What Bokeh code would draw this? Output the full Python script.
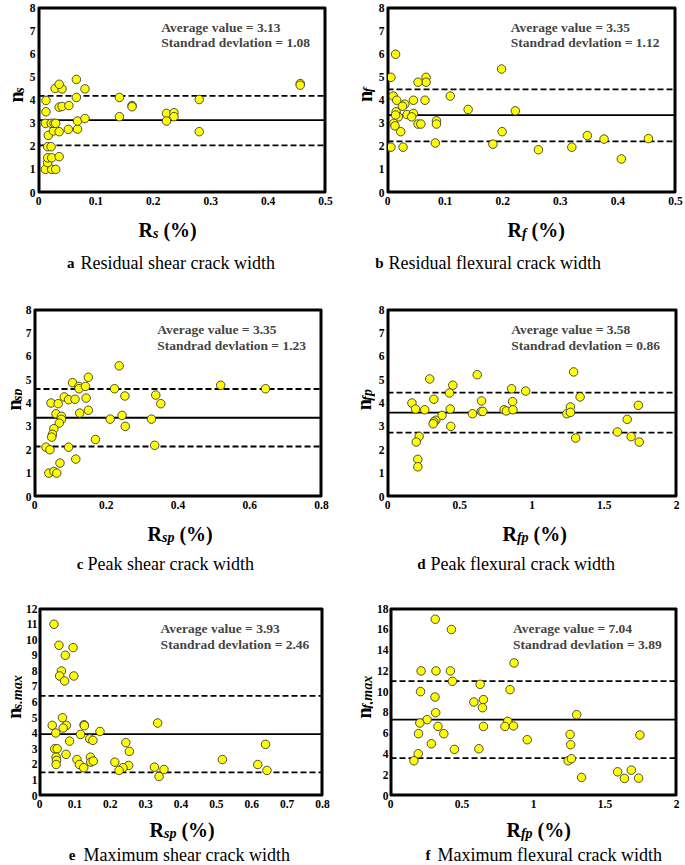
import math
from bokeh.plotting import figure
from bokeh.models import Range1d, FixedTicker, Label, Span
from bokeh.layouts import column, row
from bokeh.core.properties import value
from bokeh.embed import file_html
from bokeh.resources import INLINE

FONT = "Liberation Serif"

# ---------------- data ----------------
a_x = [0.012, 0.023, 0.030, 0.016, 0.016, 0.023, 0.036, 0.016, 0.022, 0.017, 0.026, 0.036, 0.052, 0.068,
       0.012, 0.022, 0.027, 0.030, 0.068, 0.081, 0.141, 0.013, 0.036, 0.041, 0.053, 0.013, 0.066, 0.141,
       0.029, 0.041, 0.036, 0.081, 0.066, 0.163, 0.163, 0.223, 0.223, 0.236, 0.236, 0.280, 0.280, 0.456, 0.456]
a_y = [1.0, 1.0, 1.0, 1.29, 1.5, 1.5, 1.55, 1.98, 1.98, 2.47, 2.66, 2.63, 2.73, 2.74,
       2.99, 2.99, 2.99, 2.99, 3.09, 3.2, 3.28, 3.49, 3.69, 3.72, 3.76, 3.98, 4.11, 4.11,
       4.50, 4.48, 4.68, 4.48, 4.89, 3.76, 3.71, 3.42, 3.09, 3.45, 3.28, 4.02, 2.63, 4.71, 4.64]

b_x = [0.014, 0.006, 0.067, 0.067, 0.053, 0.198, 0.010, 0.016, 0.045, 0.065, 0.109, 0.030, 0.026, 0.140,
       0.222, 0.015, 0.034, 0.045, 0.042, 0.019, 0.014, 0.011, 0.013, 0.053, 0.058, 0.085, 0.085, 0.023,
       0.199, 0.083, 0.183, 0.001, 0.006, 0.027, 0.262, 0.320, 0.347, 0.376, 0.453, 0.406]
b_y = [5.98, 4.98, 4.98, 4.77, 4.77, 5.34, 4.17, 3.99, 3.99, 3.99, 4.17, 3.82, 3.73, 3.59,
       3.53, 3.49, 3.37, 3.42, 3.27, 3.27, 3.35, 2.99, 2.88, 2.96, 2.96, 3.10, 2.96, 2.63,
       2.63, 2.14, 2.09, 1.96, 1.96, 1.96, 1.85, 1.96, 2.46, 2.31, 2.33, 1.45]

c_x = [0.236, 0.150, 0.106, 0.124, 0.124, 0.142, 0.223, 0.519, 0.644, 0.338, 0.252, 0.083, 0.095, 0.113,
       0.144, 0.046, 0.066, 0.352, 0.150, 0.126, 0.060, 0.075, 0.075, 0.244, 0.211, 0.326, 0.069, 0.253,
       0.054, 0.050, 0.048, 0.170, 0.032, 0.043, 0.095, 0.335, 0.115, 0.071, 0.040, 0.054, 0.062]
c_y = [5.59, 5.10, 4.87, 4.71, 4.61, 4.71, 4.61, 4.76, 4.61, 4.34, 4.30, 4.26, 4.14, 4.16,
       4.21, 4.0, 3.97, 3.97, 3.69, 3.57, 3.54, 3.43, 3.30, 3.47, 3.31, 3.31, 3.14, 3.0,
       2.9, 2.66, 2.54, 2.44, 2.11, 2.0, 2.11, 2.19, 1.6, 1.43, 1.0, 1.07, 1.0]

d_x = [1.288, 0.621, 0.292, 0.452, 0.859, 0.956, 0.429, 1.333, 0.321, 0.651, 0.866, 0.169, 1.736, 1.266,
       0.194, 0.258, 0.434, 0.807, 0.823, 0.868, 0.649, 0.660, 0.588, 1.241, 1.266, 0.377, 0.334, 0.321,
       0.316, 0.438, 1.659, 1.591, 1.686, 1.742, 1.302, 0.219, 0.199, 0.210, 0.210]
d_y = [5.33, 5.21, 5.03, 4.76, 4.61, 4.51, 4.43, 4.26, 4.16, 4.09, 4.06, 4.0, 3.9, 3.83,
       3.74, 3.71, 3.74, 3.71, 3.66, 3.71, 3.64, 3.64, 3.54, 3.54, 3.6, 3.47, 3.26, 3.19,
       3.11, 3.0, 3.3, 2.76, 2.56, 2.33, 2.5, 2.57, 2.33, 1.59, 1.27]

e_x = [0.041, 0.055, 0.095, 0.073, 0.062, 0.057, 0.097, 0.071, 0.065, 0.036, 0.076, 0.126, 0.127, 0.067,
       0.334, 0.046, 0.116, 0.171, 0.142, 0.151, 0.085, 0.244, 0.639, 0.043, 0.050, 0.254, 0.075, 0.047,
       0.144, 0.106, 0.048, 0.517, 0.213, 0.145, 0.152, 0.047, 0.113, 0.125, 0.252, 0.236, 0.225, 0.325,
       0.352, 0.617, 0.643, 0.338]
e_y = [10.99, 9.64, 9.49, 9.0, 7.99, 7.67, 7.67, 7.35, 4.99, 4.5, 4.5, 4.54, 4.48, 4.33,
       4.65, 4.01, 3.92, 4.11, 3.64, 3.54, 3.49, 3.39, 3.28, 3.0, 3.0, 2.83, 2.64, 2.46,
       2.46, 2.31, 2.25, 2.31, 2.14, 2.14, 2.21, 1.99, 1.99, 1.78, 1.93, 1.78, 1.61, 1.82,
       1.67, 1.99, 1.61, 1.22]

f_x = [0.313, 0.426, 0.864, 0.214, 0.318, 0.419, 0.433, 0.627, 0.836, 0.210, 0.311, 0.650, 0.583, 0.643,
       0.316, 1.302, 0.256, 0.205, 0.820, 0.332, 0.650, 0.800, 0.860, 0.196, 0.373, 1.256, 1.744, 0.956,
       0.286, 1.260, 0.447, 0.618, 0.194, 0.164, 1.242, 1.265, 1.588, 1.684, 1.336, 1.636, 1.735]
f_y = [16.97, 15.98, 12.76, 11.99, 11.99, 11.99, 10.99, 10.70, 10.19, 10.0, 9.48, 9.23, 9.0, 8.45,
       7.97, 7.78, 7.30, 6.98, 7.14, 6.65, 6.65, 6.65, 6.69, 5.95, 5.95, 5.88, 5.82, 5.37,
       4.98, 4.89, 4.44, 4.5, 4.02, 3.34, 3.34, 3.54, 2.28, 2.44, 1.74, 1.64, 1.67]

# reference lines (mean, lower, upper) as drawn
a_lines = [3.13, 2.04, 4.18]
b_lines = [3.35, 2.21, 4.46]
c_lines = [3.37, 2.14, 4.60]
d_lines = [3.59, 2.73, 4.44]
e_lines = [3.94, 1.48, 6.39]
f_lines = [7.30, 3.60, 11.00]

# statistics text
a_stats = ["3.13", "1.08"]
b_stats = ["3.35", "1.12"]
c_stats = ["3.35", "1.23"]
d_stats = ["3.58", "0.86"]
e_stats = ["3.93", "2.46"]
f_stats = ["7.04", "3.89"]

# ticks
x_ticks_05 = [0, 0.1, 0.2, 0.3, 0.4, 0.5]
x_labels_05 = ["0", "0.1", "0.2", "0.3", "0.4", "0.5"]
x_ticks_08 = [0, 0.2, 0.4, 0.6, 0.8]
x_labels_08 = ["0", "0.2", "0.4", "0.6", "0.8"]
x_ticks_08f = [0, 0.1, 0.2, 0.3, 0.4, 0.5, 0.6, 0.7, 0.8]
x_labels_08f = ["0", "0.1", "0.2", "0.3", "0.4", "0.5", "0.6", "0.7", "0.8"]
x_ticks_2 = [0, 0.5, 1, 1.5, 2]
x_labels_2 = ["0", "0.5", "1", "1.5", "2"]
y_ticks_8 = [0, 1, 2, 3, 4, 5, 6, 7, 8]
y_labels_8 = [str(v) for v in y_ticks_8]
y_ticks_12 = [0, 1, 2, 3, 4, 5, 6, 7, 8, 9, 10, 11, 12]
y_labels_12 = [str(v) for v in y_ticks_12]
y_ticks_18 = [0, 2, 4, 6, 8, 10, 12, 14, 16, 18]
y_labels_18 = [str(v) for v in y_ticks_18]

# titles
letters = ["a", "b", "c", "d", "e", "f"]
captions = ["Residual shear crack width", "Residual flexural crack width",
            "Peak shear crack width", "Peak flexural crack width",
            "Maximum shear crack width", "Maximum flexural crack width"]
x_subs = ["s", "f", "sp", "fp", "sp", "fp"]
y_subs = ["s", "f", "sp", "fp", "s,max", "f,max"]

# approximate Times metrics (per 1000 em)
BOLD_W = {'R': 722, 'n': 556, ' ': 250, '(': 333, '%': 1000, ')': 333}
BI_W = {'s': 389, 'p': 500, 'f': 333, ',': 250, 'm': 778, 'a': 500, 'x': 500}
SUB = 14


def tw(s, table, size):
    return sum(table.get(ch, 500) for ch in s) * size / 1000.0


def text_fig(w, h):
    t = figure(width=w, height=h, x_range=Range1d(0, w), y_range=Range1d(0, h),
               output_backend="svg", toolbar_location=None, x_axis_type=None, y_axis_type=None,
               min_border_left=0, min_border_right=0, min_border_top=0, min_border_bottom=0)
    t.outline_line_color = None
    return t


def put(t, x, y, s, size, style="bold", align="left", angle=0.0):
    t.text(x=[x], y=[y], text=[s], angle=angle, text_font=value(FONT), text_font_style=style,
           text_font_size=size, text_align=align, text_baseline="alphabetic", text_color="black")


def main_fig(xs, ys, x_end, y_end, xticks, xlabels, yticks, ylabels, levels, stats, w, h, bl, br, bt, bb,
             ystand):
    p = figure(width=w, height=h, x_range=Range1d(0, x_end), y_range=Range1d(0, y_end),
               output_backend="svg", toolbar_location=None,
               min_border_left=bl, min_border_right=br, min_border_top=bt, min_border_bottom=bb)
    p.xgrid.visible = False
    p.ygrid.visible = False
    p.outline_line_color = "black"
    p.outline_line_width = 2
    for ax, ticks, labels in ((p.xaxis[0], xticks, xlabels), (p.yaxis[0], yticks, ylabels)):
        ax.ticker = FixedTicker(ticks=ticks)
        ax.major_label_overrides = {t: l for t, l in zip(ticks, labels)}
        ax.axis_line_color = "black"
        ax.axis_line_width = 1
        ax.major_tick_line_color = None
        ax.minor_tick_line_color = None
        ax.major_tick_out = 0
        ax.major_tick_in = 0
        ax.minor_tick_out = 0
        ax.minor_tick_in = 0
        ax.major_label_text_font = FONT
        ax.major_label_text_font_style = "bold"
        ax.major_label_text_font_size = "11.5px"
        ax.major_label_text_color = "black"
        ax.major_label_standoff = 4
    p.yaxis[0].major_label_standoff = ystand

    for i, lv in enumerate(levels):
        p.add_layout(Span(location=lv, dimension="width", line_color="black", line_width=1.8,
                          line_dash="solid" if i == 0 else "6 3", level="underlay"))

    # frame box (drawn over the whole plotting range)
    p.quad(left=[0], right=[x_end], bottom=[0], top=[y_end], fill_color=None,
           line_color="black", line_width=4)

    p.scatter(xs, ys, size=8.5, fill_color="#FFFF00", line_color="#3a3a3a", line_width=0.9)

    p.add_layout(Label(x=x_end * 0.428, y=y_end * 0.892, text="Average value = " + stats[0],
                       text_font=FONT, text_font_style="bold", text_font_size="13.5px",
                       text_baseline="middle", text_align="left"))
    p.add_layout(Label(x=x_end * 0.428, y=y_end * 0.81, text="Standrad devlation = " + stats[1],
                       text_font=FONT, text_font_style="bold", text_font_size="13.5px",
                       text_baseline="middle", text_align="left"))
    return p


def panel(main_args, col_w, yw, bl, br, bt, bb, mh, xh, ysub, y_nx, xsub, r_x, x_base,
          letter, caption, let_x, cap_x, cap_base, ystand=3):
    fh = mh - bt - bb
    p = main_fig(*main_args, w=col_w - yw, h=mh, bl=bl, br=br, bt=bt, bb=bb, ystand=ystand)

    # y title
    yt = text_fig(yw, mh)
    wn = tw("n", BOLD_W, 20)
    wys = tw(ysub, BI_W, SUB)
    cy = mh - bt - fh / 2.0
    y0 = cy - (wn + wys) / 2.0
    put(yt, y_nx, y0, "n", "20px", angle=math.pi / 2)
    put(yt, y_nx + 4, y0 + wn, ysub, "%dpx" % SUB, style="bold italic", angle=math.pi / 2)

    # x title + caption
    xt = text_fig(col_w, xh)
    wR = tw("R", BOLD_W, 20)
    wS = tw(xsub, BI_W, SUB)
    put(xt, r_x, xh - x_base, "R", "20px")
    put(xt, r_x + wR, xh - x_base - 4, xsub, "%dpx" % SUB, style="bold italic")
    put(xt, r_x + wR + wS + 5, xh - x_base, "(%)", "20px")
    put(xt, let_x, xh - cap_base, letter, "15px", align="right")
    put(xt, cap_x, xh - cap_base, caption, "18px", style="normal")

    return column(row(yt, p), xt)


LW, RW = 342, 343
pa = panel((a_x, a_y, 0.5, 8, x_ticks_05, x_labels_05, y_ticks_8, y_labels_8, a_lines, a_stats),
           LW, 26, 9, 17, 7, 18, 210, 87, y_subs[0], 15, x_subs[0], 138, 19,
           letters[0], captions[0], 74, 80, 52)
pb = panel((b_x, b_y, 0.5, 8, x_ticks_05, x_labels_05, y_ticks_8, y_labels_8, b_lines, b_stats),
           RW, 33, 9, 10, 7, 18, 210, 87, y_subs[1], 22, x_subs[1], 165, 19,
           letters[1], captions[1], 41, 46, 52)
pc = panel((c_x, c_y, 0.8, 8, x_ticks_08, x_labels_08, y_ticks_8, y_labels_8, c_lines, c_stats),
           LW, 22, 9, 21, 12, 18, 217, 82, y_subs[2], 13, x_subs[2], 147, 19,
           letters[2], captions[2], 83, 87, 49)
pd_ = panel((d_x, d_y, 2, 8, x_ticks_2, x_labels_2, y_ticks_8, y_labels_8, d_lines, d_stats),
            RW, 33, 8, 9, 12, 18, 217, 82, y_subs[3], 21, x_subs[3], 160, 19,
            letters[3], captions[3], 83, 88, 49)
pe = panel((e_x, e_y, 0.8, 12, x_ticks_08f, x_labels_08f, y_ticks_12, y_labels_12, e_lines, e_stats),
           LW, 22, 13, 20, 12, 18, 217, 52, y_subs[4], 13, x_subs[4], 149, 16,
           letters[4], captions[4], 75, 83, 41, ystand=2)
pf = panel((f_x, f_y, 2, 18, x_ticks_2, x_labels_2, y_ticks_18, y_labels_18, f_lines, f_stats),
           RW, 31, 15, 9, 12, 18, 217, 52, y_subs[5], 21, x_subs[5], 164, 16,
           letters[5], captions[5], 88, 95, 41, ystand=2)

layout = column(row(pa, pb), row(pc, pd_), row(pe, pf))
open("out.html", "w").write(file_html(layout, INLINE))
